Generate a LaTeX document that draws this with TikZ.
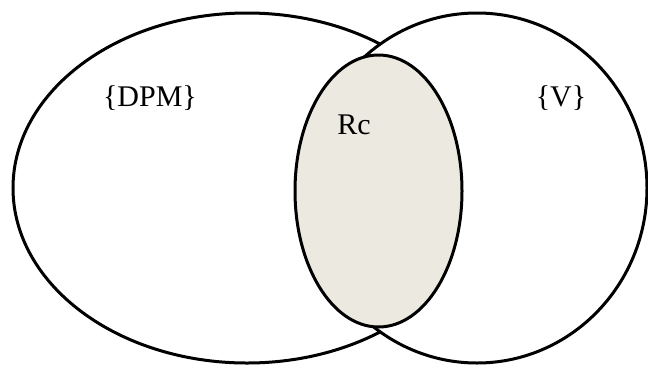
\documentclass[tikz,border=0pt]{standalone}
\usepackage{fontspec}
\setmainfont{Liberation Serif}
\usetikzlibrary{shapes.geometric}
\definecolor{rcfill}{RGB}{236,234,224}

\begin{document}
\begin{tikzpicture}[
  x=1pt, y=-1pt,
  set/.style={ellipse,draw,line width=3pt,inner sep=0pt},
  lbl/.style={anchor=base,inner sep=0pt,font=\fontsize{30}{30}\selectfont}
]
  \useasboundingbox (0,0) rectangle (648,365);
  \node[set,minimum width=468pt,minimum height=350pt] (dpm) at (247,188) {};
  \node[set,fill=white,minimum width=340pt,minimum height=350pt] (v) at (477,188) {};
  \node[set,fill=rcfill,minimum width=167pt,minimum height=272pt] (rc) at (378.5,191) {};
  \node[lbl] (tdpm) at (150,106) {\{DPM\}};
  \node[lbl] (tv) at (561,106) {\{V\}};
  \node[lbl] (trc) at (354,134) {Rc};
\end{tikzpicture}
\end{document}
